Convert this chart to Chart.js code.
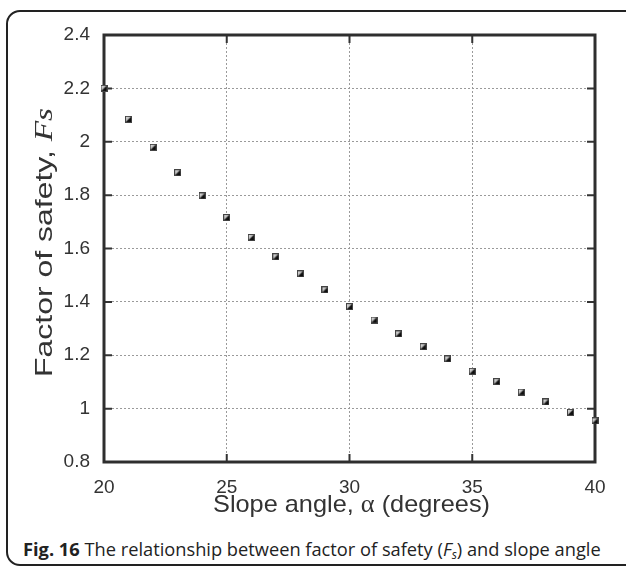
<!DOCTYPE html>
<html><head><meta charset="utf-8">
<style>
html,body{margin:0;padding:0;background:#fff;width:626px;height:568px;overflow:hidden;}
#frame{position:absolute;left:6px;top:10px;width:660px;height:556px;border:2px solid #222;border-radius:14px;box-sizing:border-box;}
#wrap{position:absolute;left:0;top:0;width:626px;height:532px;}
#caption{position:absolute;left:23px;top:538px;font-family:"Open Sans";font-size:18.25px;color:#222;white-space:nowrap;line-height:22px;}
#caption sub{font-size:12px;vertical-align:-3px;line-height:0;}
</style>
<script src="https://cdn.jsdelivr.net/npm/chart.js@4"></script>
</head><body>
<div id="frame"></div>
<div id="wrap"><canvas id="c"></canvas></div>
<div id="caption"><b>Fig. 16</b> The relationship between factor of safety (<i>F<sub>s</sub></i>) and slope angle</div>
<script>
const slopeAngles = [20,21,22,23,24,25,26,27,28,29,30,31,32,33,34,35,36,37,38,39,40];
const factorOfSafety = [2.20,2.084,1.979,1.884,1.797,1.716,1.641,1.569,1.505,1.445,1.382,1.332,1.280,1.232,1.186,1.140,1.101,1.062,1.025,0.986,0.954];
const xTickValues = [20,25,30,35,40];
const yTickValues = [0.8,1.0,1.2,1.4,1.6,1.8,2.0,2.2,2.4];
const xTitleParts = ["Slope angle, ", "\u03b1", " (degrees)"];
const yTitleParts = ["Factor of safety, ", "Fs"];

function makeMarker(){
  const c=document.createElement('canvas'); c.width=7; c.height=7;
  const g=c.getContext('2d');
  const gr=g.createLinearGradient(0,0,7,7);
  gr.addColorStop(0,'#f2f2f2'); gr.addColorStop(0.42,'#bdbdbd'); gr.addColorStop(0.55,'#151515'); gr.addColorStop(1,'#000');
  g.fillStyle=gr; g.fillRect(0,0,7,7);
  g.strokeStyle='#444'; g.lineWidth=1; g.strokeRect(0.5,0.5,6,6);
  return c;
}

// draws mixed-font text centred at (cx, baseline by), stretched along its direction to span `len`
function drawSegs(ctx, segs, cx, by, rot, len){
  ctx.save(); ctx.translate(cx, by); ctx.rotate(rot);
  let total=0;
  segs.forEach(s=>{ctx.font=s.font; s.w=ctx.measureText(s.t).width; total+=s.w;});
  ctx.scale(len/total,1);
  let x=-total/2; ctx.textBaseline='alphabetic'; ctx.textAlign='left'; ctx.fillStyle='#333';
  segs.forEach(s=>{ctx.font=s.font; ctx.fillText(s.t,x,0); x+=s.w;});
  ctx.restore();
}

const framePlugin = {
  id:'frame',
  beforeDatasetsDraw(chart){
    const {ctx, chartArea:a, scales:{x,y}} = chart;
    ctx.save();
    ctx.setLineDash([]);
    ctx.strokeStyle='#333'; ctx.lineWidth=2;
    const L=8;
    ctx.beginPath();
    xTickValues.forEach(v=>{const px=x.getPixelForValue(v);
      ctx.moveTo(px,a.bottom); ctx.lineTo(px,a.bottom-L);
      ctx.moveTo(px,a.top); ctx.lineTo(px,a.top+L);});
    yTickValues.forEach(v=>{const py=y.getPixelForValue(v);
      ctx.moveTo(a.left,py); ctx.lineTo(a.left+L,py);
      ctx.moveTo(a.right,py); ctx.lineTo(a.right-L,py);});
    ctx.stroke();
    ctx.lineWidth=3; ctx.strokeStyle='#2e2e2e';
    ctx.strokeRect(a.left,a.top,a.right-a.left,a.bottom-a.top);
    ctx.restore();
  },
  afterDraw(chart){
    const {ctx, chartArea:a} = chart;
    const sans='24px "Liberation Sans"', serif='25px "Liberation Serif"', serifI='italic 25px "Liberation Serif"';
    drawSegs(ctx,[{t:xTitleParts[0],font:sans},{t:xTitleParts[1],font:serif},{t:xTitleParts[2],font:sans}],(a.left+a.right)/2+2,512,0,277);
    drawSegs(ctx,[{t:yTitleParts[0],font:sans},{t:yTitleParts[1],font:serifI}],52,242.5,-Math.PI/2,269);
  }
};

new Chart(document.getElementById('c'),{
  type:'scatter',
  data:{datasets:[{
    data:slopeAngles.map((v,i)=>({x:v,y:factorOfSafety[i]})),
    pointStyle:makeMarker(), pointRadius:4, showLine:false, clip:false
  }]},
  options:{
    responsive:true, maintainAspectRatio:false, animation:false,
    layout:{padding:{left:0,top:35,right:31,bottom:0}},
    plugins:{legend:{display:false},tooltip:{enabled:false}},
    scales:{
      x:{type:'linear',min:20,max:40,
        afterBuildTicks(s){s.ticks=xTickValues.map(v=>({value:v}));},
        afterFit(s){s.height=70;},
        ticks:{padding:14,color:'#333',font:{family:'"Liberation Sans"',size:19},callback:v=>String(v)},
        grid:{color:'#9a9a9a',lineWidth:1,drawTicks:false},
        border:{display:false,dash:[2,2]},
        title:{display:false}
      },
      y:{type:'linear',min:0.8,max:2.4,
        afterBuildTicks(s){s.ticks=yTickValues.map(v=>({value:v}));},
        afterFit(s){s.width=104;},
        ticks:{padding:14,color:'#333',font:{family:'"Liberation Sans"',size:19},callback:v=>String(Number(v.toFixed(1)))},
        grid:{color:'#9a9a9a',lineWidth:1,drawTicks:false},
        border:{display:false,dash:[2,2]},
        title:{display:false}
      }
    }
  },
  plugins:[framePlugin]
});
</script>
</body></html>
